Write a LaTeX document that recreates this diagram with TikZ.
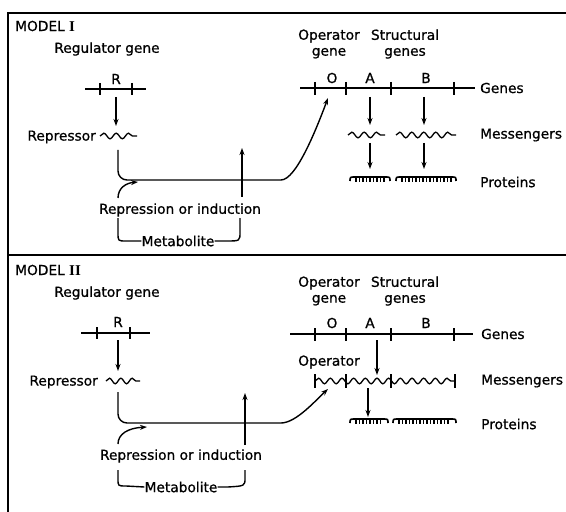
\documentclass[tikz,border=0pt]{standalone}
\usepackage{fontspec}
\setmainfont{DejaVu Sans}[FakeBold=0.8]
\newfontfamily\serifnum{Liberation Serif}
\usetikzlibrary{arrows.meta,decorations.pathmorphing}
\tikzset{
  lbl/.style={font=\fontsize{13.8}{16}\selectfont, inner sep=0pt, align=center},
  ln/.style={line width=1.4bp},
  frame/.style={line width=1.7bp},
  conn/.style={line width=1.4bp, -{Stealth[length=7bp,width=5bp]}},
  wave/.style={line width=1.3bp, decorate, decoration={snake, segment length=#1, amplitude=2.8bp}},
  wave/.default=12bp,
}
\newcommand\drawprot[3]{%
  \draw[line width=1.6bp] (#1,#3+4) .. controls (#1,#3) .. (#1+5,#3) -- (#2-5,#3) .. controls (#2,#3) .. (#2,#3+4);
  \pgfmathsetmacro\protA{#1+6}%
  \pgfmathsetmacro\protB{#1+9.5}%
  \pgfmathsetmacro\protE{#2-5}%
  \foreach \t in {\protA,\protB,...,\protE} {\draw[line width=1.3bp] (\t,#3) -- (\t,#3+5);}
}
\begin{document}
\begin{tikzpicture}[x=1bp,y=-1bp]
\useasboundingbox (0,0) rectangle (566,512);
% frame
\draw[frame] (8,512) -- (8,13) -- (566,13);
\draw[frame] (8,255) -- (566,255);

% ================= MODEL I =================
\node[lbl,anchor=west] (m1) at (15,26) {MODEL {\serifnum\bfseries\fontsize{15}{16}\selectfont I}};
\node[lbl] (reg1) at (107,49) {Regulator gene};
\draw[ln] (85,89) -- (146,89);
\draw[ln] (100,83) -- (100,95);
\draw[ln] (132,83) -- (132,95);
\node[lbl] (r1) at (116,79) {R};
\coordinate (r1b) at (116,97);
\coordinate (rep1t) at (116,126);
\draw[conn] (r1b) -- (rep1t);
\node[lbl,anchor=east] (rep1) at (96,137) {Repressor};
\draw[wave=12.33bp] (100,136) -- (137,136);

% operator / structural labels
\node[lbl] (op1) at (329,44) {Operator\\gene};
\node[lbl] (st1) at (405,44) {Structural\\genes};
\draw[ln] (300,88) -- (475,88);
\foreach \t in {315,346,391,454} {\draw[ln] (\t,82) -- (\t,95);}
\node[lbl] (o1) at (332,78) {O};
\node[lbl] (a1) at (370,78) {A};
\node[lbl] (b1) at (426,78) {B};
\node[lbl,anchor=west] (genes1) at (480,88) {Genes};
\draw[conn] (370,97) -- (370,125);
\draw[conn] (424,97) -- (424,125);
\draw[wave=12.33bp] (348,135) -- (385,135);
\draw[wave=12bp] (396,135) -- (456,135);
\node[lbl,anchor=west] (mess1) at (480,135) {Messengers};
\draw[conn] (370,143) -- (370,169);
\draw[conn] (424,143) -- (424,169);
\drawprot{350}{390}{177}
\drawprot{396}{456}{177}
\node[lbl,anchor=west] (prot1) at (480,182) {Proteins};

% repressor path
\coordinate (p1s) at (118,150);
\coordinate (op1tip) at (328,98);
\draw[conn,rounded corners=9bp] (p1s) -- (118,180) -- (272,180) .. controls (296,180) and (316,130) .. (op1tip);
\node[lbl] (ri1) at (180,210) {Repression or induction};
\coordinate (up1s) at (242,197);
\coordinate (up1e) at (242,148);
\draw[conn] (up1s) -- (up1e);
\coordinate (cu1s) at (118,198);
\coordinate (cu1e) at (138,182);
\draw[conn] (cu1s) .. controls (118,188) and (126,183) .. (cu1e);
\node[lbl] (met1) at (178,241) {Metabolite};
\draw[ln] (118,218) -- (118,233) .. controls (118,241) .. (126,241) -- (met1.west);
\draw[ln] (met1.east) -- ++(12,0) .. controls (240,241) .. (240,232) -- (240,218);

% ================= MODEL II =================
\node[lbl,anchor=west] (m2) at (15,270) {MODEL {\serifnum\bfseries\fontsize{15}{16}\selectfont II}};
\node[lbl] (reg2) at (107,293) {Regulator gene};
\draw[ln] (81,333) -- (150,333);
\draw[ln] (97,327) -- (97,339);
\draw[ln] (130,327) -- (130,339);
\node[lbl] (r2) at (118,322) {R};
\coordinate (r2b) at (118,340);
\coordinate (rep2t) at (118,371);
\draw[conn] (r2b) -- (rep2t);
\node[lbl,anchor=east] (rep2) at (98,382) {Repressor};
\draw[wave=11.33bp] (106,381) -- (140,381);

\node[lbl] (op2) at (329,291) {Operator\\gene};
\node[lbl] (st2) at (405,291) {Structural\\genes};
\draw[ln] (290,334) -- (473,334);
\foreach \t in {315,346,391,454} {\draw[ln] (\t,328) -- (\t,341);}
\node[lbl] (o2) at (332,323) {O};
\node[lbl] (a2) at (370,323) {A};
\node[lbl] (b2) at (426,323) {B};
\node[lbl,anchor=west] (genes2) at (481,334) {Genes};
\draw[conn] (377,340) -- (377,375);
\node[lbl] (opm2) at (329,362) {Operator};
\draw[wave=11.67bp] (315,381) -- (455,381);
\foreach \t in {315,346,391,455} {\draw[ln] (\t,374) -- (\t,388);}
\node[lbl,anchor=west] (mess2) at (481,381) {Messengers};
\draw[conn] (368,388) -- (368,417);
\drawprot{350}{388}{419}
\drawprot{393}{456}{419}
\node[lbl,anchor=west] (prot2) at (481,424) {Proteins};

\coordinate (p2s) at (118,392);
\coordinate (op2tip) at (328,389);
\draw[conn,rounded corners=9bp] (p2s) -- (118,423) -- (272,423) .. controls (296,423) and (316,400) .. (op2tip);
\node[lbl] (ri2) at (181,456) {Repression or induction};
\coordinate (up2s) at (245,445);
\coordinate (up2e) at (245,393);
\draw[conn] (up2s) -- (up2e);
\coordinate (cu2s) at (118,444);
\coordinate (cu2e) at (147,427);
\draw[conn] (cu2s) .. controls (118,434) and (128,428) .. (cu2e);
\node[lbl] (met2) at (181,487) {Metabolite};
\draw[ln] (118,470) -- (118,479) .. controls (118,486) .. (126,486) -- (met2.west);
\draw[ln] (met2.east) -- ++(10,0) .. controls (245,486) .. (245,478) -- (245,470);
\end{tikzpicture}
\end{document}
